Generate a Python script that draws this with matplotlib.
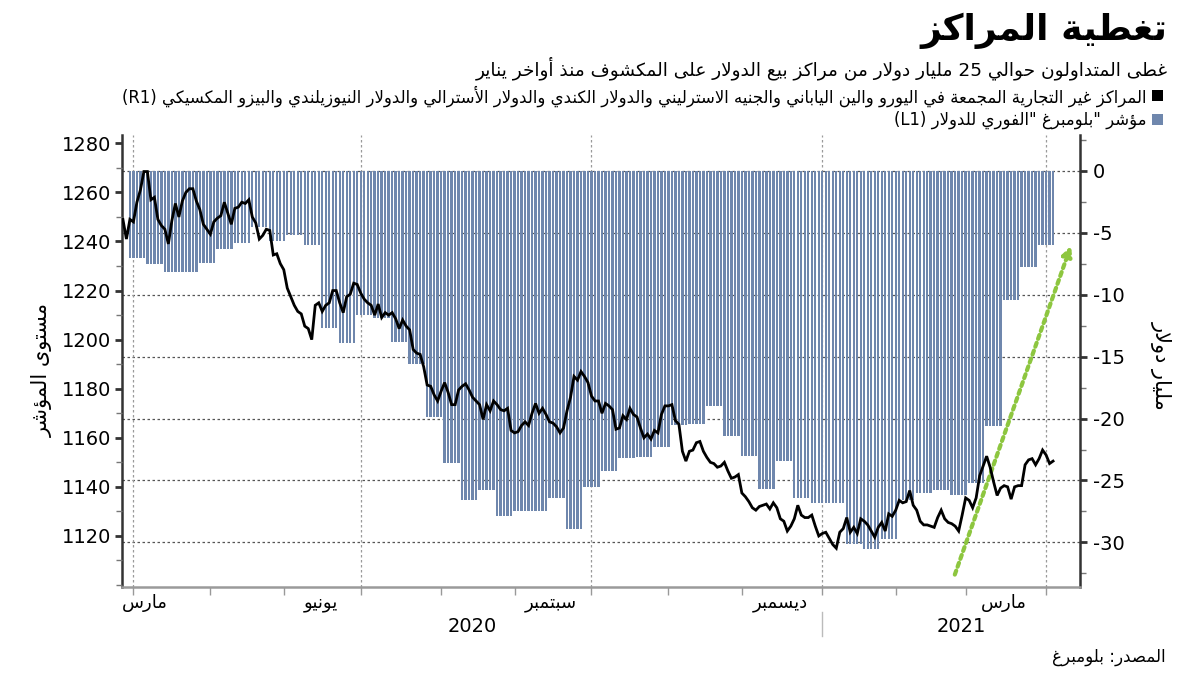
import re
import matplotlib
matplotlib.use("Agg")
import matplotlib.pyplot as plt
from matplotlib.patches import Rectangle
from matplotlib.ticker import MultipleLocator
import numpy as np
import pandas as pd

plt.rcParams["font.family"] = ["DejaVu Sans"]
plt.rcParams["axes.unicode_minus"] = False

# ---------------------------------------------------------------------------
# Data
# ---------------------------------------------------------------------------
# Bloomberg dollar spot index, one value per weekday, 2020-03-27 .. 2021-04-05
line_start, line_end = "2020-03-27", "2021-04-05"
index_level = [
    1249, 1241, 1249, 1248, 1256, 1261, 1268.5, 1268.5, 1257, 1258,
    1249, 1246.5, 1245, 1239, 1248.5, 1255.5, 1250, 1256.5, 1260, 1261.5,
    1261.5, 1256.5, 1253, 1247, 1245, 1243, 1248, 1249.5, 1250.5, 1256,
    1251.5, 1247, 1253.5, 1254, 1256, 1255.5, 1257, 1250, 1247.5, 1241,
    1242.5, 1245, 1244.5, 1234.5, 1235, 1231, 1228.5, 1221, 1217.5, 1214,
    1211.5, 1210.5, 1205.5, 1204.5, 1200, 1214, 1215, 1211.5, 1214, 1215,
    1220, 1220, 1215, 1211, 1217.5, 1218.5, 1223, 1222.5, 1219, 1216.5,
    1215, 1214, 1210, 1214.5, 1209, 1211, 1210, 1211, 1208.5, 1204.5,
    1208, 1205.5, 1204, 1196, 1194.5, 1194, 1189, 1181.5, 1181, 1177.5,
    1175, 1179, 1182.5, 1178.5, 1173.5, 1173.5, 1179.5, 1181, 1182, 1179.5,
    1176.5, 1175, 1173.5, 1167.5, 1173.5, 1171, 1175, 1173.5, 1171.5, 1171,
    1172, 1163, 1162, 1162.5, 1165, 1166.5, 1165, 1170, 1174, 1170,
    1172, 1169.5, 1166.5, 1166, 1164.5, 1162, 1164, 1171, 1176.5, 1185,
    1183.5, 1187, 1185, 1182.5, 1177, 1175, 1175, 1170, 1174, 1173,
    1171.5, 1163.5, 1164, 1169, 1167.5, 1172, 1169.5, 1168.5, 1164, 1160,
    1161.5, 1159.5, 1163, 1162, 1169.5, 1173, 1173, 1173.5, 1167, 1165.5,
    1154.5, 1150.5, 1154.5, 1155, 1158, 1158.5, 1154.5, 1152, 1150, 1149.5,
    1148, 1148.5, 1150, 1146.5, 1143.5, 1144, 1145, 1137.5, 1136, 1134,
    1131.5, 1130.5, 1132, 1132.5, 1133, 1131, 1133.5, 1131.5, 1127, 1126,
    1122, 1124, 1127, 1132.5, 1128.5, 1127.5, 1127.5, 1128.5, 1124, 1120,
    1121, 1121.5, 1119, 1116.5, 1115, 1121.5, 1123, 1127.5, 1121.5, 1123.5,
    1121, 1127, 1126, 1124.5, 1122, 1119.5, 1123.5, 1125.5, 1122, 1129,
    1128, 1130.5, 1134.5, 1133.5, 1134, 1138.5, 1132.5, 1130.5, 1126, 1124.5,
    1124.5, 1124, 1123.5, 1127.5, 1130.5, 1127, 1125.5, 1125, 1124, 1122,
    1128.5, 1135.5, 1134.5, 1131.5, 1135.5, 1144.5, 1148.5, 1152.5, 1148, 1142,
    1136.5, 1139.5, 1140.5, 1140, 1135, 1140, 1140.5, 1140.5, 1149, 1151,
    1151.5, 1149, 1151.5, 1155, 1153, 1149.5, 1150.5,
]

# Weekly net non-commercial positions (billion $), as of each Tuesday
positions_first_week = "2020-03-31"
positions = [
    -7.0, -7.5, -8.2, -8.2, -7.4, -6.3, -5.8, -4.5, -5.65, -5.2,
    -6.0, -12.7, -13.9, -11.6, -11.9, -13.8, -15.6, -19.9, -23.6, -26.6,
    -25.8, -27.9, -27.5, -27.5, -26.4, -28.9, -25.5, -24.2, -23.2, -23.1,
    -22.3, -20.5, -20.4, -19.0, -21.4, -23.0, -25.7, -23.4, -26.4, -26.8,
    -26.8, -30.1, -30.5, -29.7, -26.6, -26.0, -25.8, -26.2, -25.2, -20.6,
    -10.4, -7.8, -6.0,
]

month_label_months = ["2020-03", "2020-06", "2020-09", "2020-12", "2021-03"]
month_label_text = ["مارس", "يونيو", "سبتمبر", "ديسمبر", "مارس"]
years = [2020, 2021]

title = "تغطية المراكز"
subtitle = "غطى المتداولون حوالي 25 مليار دولار من مراكز بيع الدولار على المكشوف منذ أواخر يناير"
legend_pos = ("المراكز غير التجارية المجمعة في اليورو والين الياباني والجنيه الاسترليني "
              "والدولار الكندي والدولار الأسترالي والدولار النيوزيلندي والبيزو المكسيكي (R1)")
legend_idx = 'مؤشر "بلومبرغ "الفوري للدولار (L1)'
left_label = "مستوى المؤشر"
right_label = "مليار دولار"
source = "المصدر: بلومبرغ"

BAR_COLOR = "#6f87ad"
GREEN = "#8dc63f"

# ---------------------------------------------------------------------------
# Minimal Arabic shaping (presentation forms + right-to-left ordering)
# ---------------------------------------------------------------------------
AR_FORMS = {
    "ء": (0xFE80, 1), "آ": (0xFE81, 2), "أ": (0xFE83, 2), "ؤ": (0xFE85, 2),
    "إ": (0xFE87, 2), "ئ": (0xFE89, 4), "ا": (0xFE8D, 2), "ب": (0xFE8F, 4),
    "ة": (0xFE93, 2), "ت": (0xFE95, 4), "ث": (0xFE99, 4), "ج": (0xFE9D, 4),
    "ح": (0xFEA1, 4), "خ": (0xFEA5, 4), "د": (0xFEA9, 2), "ذ": (0xFEAB, 2),
    "ر": (0xFEAD, 2), "ز": (0xFEAF, 2), "س": (0xFEB1, 4), "ش": (0xFEB5, 4),
    "ص": (0xFEB9, 4), "ض": (0xFEBD, 4), "ط": (0xFEC1, 4), "ظ": (0xFEC5, 4),
    "ع": (0xFEC9, 4), "غ": (0xFECD, 4), "ف": (0xFED1, 4), "ق": (0xFED5, 4),
    "ك": (0xFED9, 4), "ل": (0xFEDD, 4), "م": (0xFEE1, 4), "ن": (0xFEE5, 4),
    "ه": (0xFEE9, 4), "و": (0xFEED, 2), "ى": (0xFEEF, 2), "ي": (0xFEF1, 4),
}
LAM_ALEF = {"آ": 0xFEF5, "أ": 0xFEF7, "إ": 0xFEF9, "ا": 0xFEFB}


def _joins(c):
    return c in AR_FORMS and AR_FORMS[c][1] > 1


def _dual(c):
    return c in AR_FORMS and AR_FORMS[c][1] == 4


def ar(text):
    out = []
    i, n = 0, len(text)
    while i < n:
        c = text[i]
        if c not in AR_FORMS:
            out.append(c)
            i += 1
            continue
        prev = text[i - 1] if i > 0 else ""
        link_prev = _dual(prev) and _joins(c)
        if c == "ل" and i + 1 < n and text[i + 1] in LAM_ALEF:
            base = LAM_ALEF[text[i + 1]]
            out.append(chr(base + 1 if link_prev else base))
            i += 2
            continue
        nxt = text[i + 1] if i + 1 < n else ""
        link_next = _dual(c) and _joins(nxt)
        base = AR_FORMS[c][0]
        off = 3 if (link_prev and link_next) else 1 if link_prev else 2 if link_next else 0
        out.append(chr(base + off))
        i += 1
    tokens = re.findall(r"[A-Za-z0-9]+|.", "".join(out))
    mirror = {"(": ")", ")": "("}
    return "".join(mirror.get(t, t) for t in reversed(tokens))


# ---------------------------------------------------------------------------
# Series on a weekday axis
# ---------------------------------------------------------------------------
days = pd.bdate_range(line_start, line_end)
pos = np.arange(len(days))
level = pd.Series(index_level, index=days)

weeks = pd.date_range(positions_first_week, periods=len(positions), freq="W-TUE")
daily_pos = pd.Series(positions, index=weeks).reindex(days, method="ffill").dropna()
bar_x = days.get_indexer(daily_pos.index)

month_id = days.to_period("M")
month_starts = pos[1:][month_id[1:] != month_id[:-1]]
quarter_starts = [p for p in month_starts if days[p].month in (1, 4, 7, 10)]

# ---------------------------------------------------------------------------
# Figure
# ---------------------------------------------------------------------------
fig = plt.figure(figsize=(12, 6.75), dpi=100)
ax = fig.add_axes([0.1017, 0.1304, 0.7983, 0.6696])
ax2 = ax.twinx()
ax.yaxis.tick_right()
ax2.yaxis.tick_left()

ax.bar(bar_x, daily_pos.values, width=0.68, color=BAR_COLOR, zorder=2, linewidth=0)
ax2.plot(pos, level.values, color="black", lw=2.0, zorder=3, solid_joinstyle="miter")

ax.set_xlim(-0.25, 273.7)
ax.set_ylim(-33.6, 2.9)
ax2.set_ylim(1099.2, 1283.4)

# right axis (positions)
ax.yaxis.set_major_locator(MultipleLocator(5))
ax.yaxis.set_minor_locator(MultipleLocator(2.5))
ax.tick_params(axis="y", which="major", direction="out", length=5, width=2,
               color="#333333", labelsize=14, pad=4)
ax.tick_params(axis="y", which="minor", direction="out", length=4, width=1, color="#777777")
ax.set_axisbelow(True)
ax.grid(axis="y", which="major", linestyle=(0, (2, 2)), color="#555555", lw=0.9)
for p in quarter_starts:
    ax.axvline(p, linestyle=(0, (2, 2)), color="#9a9a9a", lw=0.9, zorder=1)

# left axis (index)
ax2.yaxis.set_major_locator(MultipleLocator(20))
ax2.yaxis.set_minor_locator(MultipleLocator(10))
ax2.set_yticks(np.arange(1120, 1281, 20))
ax2.tick_params(axis="y", which="major", direction="out", length=5, width=2,
                color="#333333", labelsize=14, pad=3)
ax2.tick_params(axis="y", which="minor", direction="out", length=4, width=1, color="#777777")

# x axis
ax.set_xticks(month_starts)
ax.set_xticklabels([])
ax.tick_params(axis="x", which="major", direction="out", length=6, width=1, color="#999999")

for sp in ax2.spines.values():
    sp.set_visible(False)
ax.spines["top"].set_visible(False)
ax.spines["left"].set_color("#333333")
ax.spines["left"].set_linewidth(1.8)
ax.spines["right"].set_color("#333333")
ax.spines["right"].set_linewidth(1.8)
ax.spines["bottom"].set_color("#9a9a9a")
ax.spines["bottom"].set_linewidth(1.8)

# month and year labels
xt = ax.get_xaxis_transform()
x_left = ax.get_xlim()[0]
for m, lab in zip(month_label_months, month_label_text):
    inside = pos[month_id == pd.Period(m, "M")]
    mid = inside.mean()
    if mid - 8 < x_left:
        ax.text(x_left, -0.036, ar(lab), transform=xt, ha="left", va="center", fontsize=13)
    else:
        ax.text(mid, -0.036, ar(lab), transform=xt, ha="center", va="center", fontsize=13)

jan = days.get_indexer([pd.Timestamp(f"{years[1]}-01-01")])[0]
ax.text((x_left + jan) / 2, -0.087, str(years[0]), transform=xt, ha="center", va="center",
        fontsize=14)
ax.text((jan + ax.get_xlim()[1]) / 2 + 3, -0.087, str(years[1]), transform=xt, ha="center",
        va="center", fontsize=14)
ax.plot([jan, jan], [-0.056, -0.108], transform=xt, color="#bbbbbb", lw=1, clip_on=False)

# green trend arrow
ax.annotate("", xy=(271.1, -6.05), xytext=(237.9, -32.6),
            arrowprops=dict(arrowstyle="-|>", linestyle=(0, (1, 1)), lw=3, color=GREEN,
                            mutation_scale=14, shrinkA=0, shrinkB=0),
            annotation_clip=False, zorder=4)

# axis titles
fig.text(0.035, 0.452, ar(left_label), rotation=90, ha="center", va="center", fontsize=15)
fig.text(0.968, 0.459, ar(right_label), rotation=270, ha="center", va="center", fontsize=15)

# header
fig.text(0.973, 0.955, ar(title), ha="right", va="center", fontsize=26, fontweight="bold")
fig.text(0.973, 0.899, ar(subtitle), ha="right", va="center", fontsize=13.3)
fig.add_artist(Rectangle((0.96, 0.8504), 0.0092, 0.0163, transform=fig.transFigure,
                         facecolor="black", edgecolor="none"))
fig.add_artist(Rectangle((0.96, 0.8148), 0.0092, 0.0163, transform=fig.transFigure,
                         facecolor=BAR_COLOR, edgecolor="none"))
fig.text(0.955, 0.858, ar(legend_pos), ha="right", va="center", fontsize=11.9)
fig.text(0.955, 0.822, ar(legend_idx), ha="right", va="center", fontsize=11.9)
fig.text(0.971, 0.027, ar(source), ha="right", va="center", fontsize=12)

fig.savefig("out.png", dpi=100)
